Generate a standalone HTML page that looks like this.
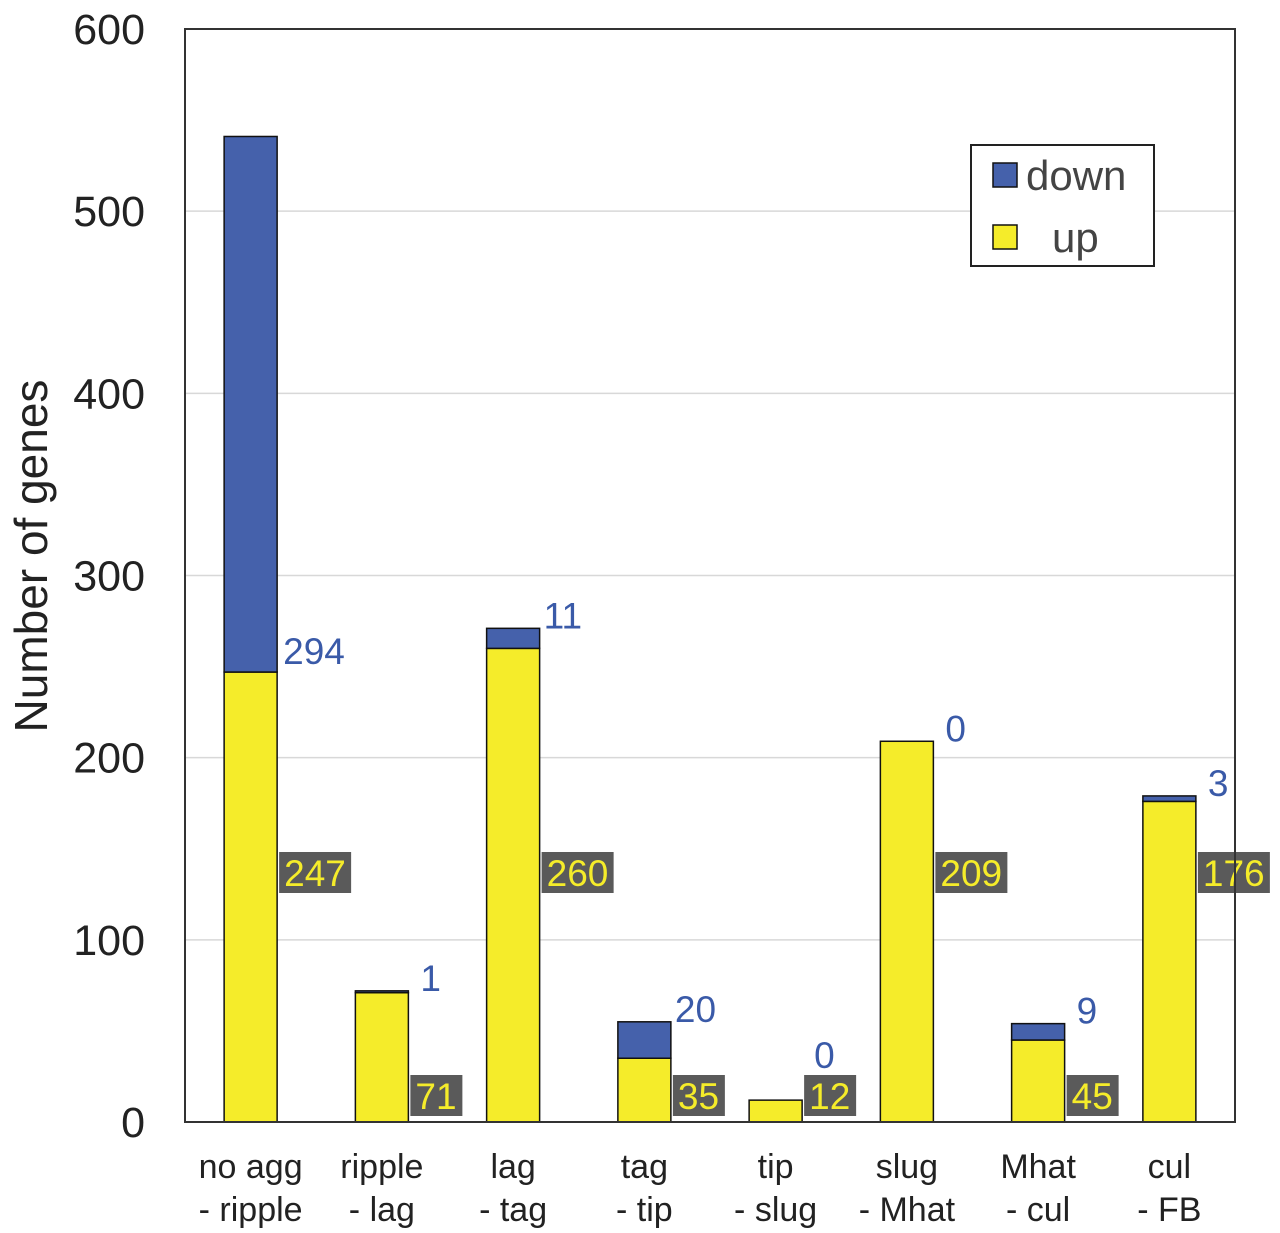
<!DOCTYPE html>
<html><head><meta charset="utf-8"><style>
html,body{margin:0;padding:0;background:#fff;}
svg{display:block;font-family:"Liberation Sans",Arial,sans-serif;}
</style></head><body>
<svg id="chart" width="1280" height="1233" viewBox="0 0 1280 1233">
<g id="grid"></g><g id="bars"></g><g id="labels"></g><g id="axes"></g>
<g>
<rect x="971" y="145" width="183" height="121" fill="#fff" stroke="#222" stroke-width="2"/>
<rect x="993" y="163" width="24" height="24" fill="#4561ab" stroke="#111" stroke-width="1.5"/>
<text x="1026" y="190" font-size="42" fill="#444">down</text>
<rect x="993" y="225" width="24" height="24" fill="#f5ec2a" stroke="#111" stroke-width="1.5"/>
<text x="1052" y="252" font-size="42" fill="#444">up</text>
</g>
<text transform="translate(47,556) rotate(-90)" text-anchor="middle" font-size="46" fill="#222">Number of genes</text>
</svg>
<script>
const catLine1 = ["no agg","ripple","lag","tag","tip","slug","Mhat","cul"];
const catLine2 = ["- ripple","- lag","- tag","- tip","- slug","- Mhat","- cul","- FB"];
const upValues = [247,71,260,35,12,209,45,176];
const downValues = [294,1,11,20,0,0,9,3];
const yTicks = [0,100,200,300,400,500,600];

const NS="http://www.w3.org/2000/svg";
const L=185,R=1235,T=29,B=1122,yMax=600;
const y=v=>B-(v/yMax)*(B-T);
const band=(R-L)/catLine1.length;
const xc=i=>L+band*(i+0.5);
const bw=53;
function mk(tag,attrs,parent,text){const e=document.createElementNS(NS,tag);for(const k in attrs)e.setAttribute(k,attrs[k]);if(text!==undefined)e.textContent=text;document.getElementById(parent).appendChild(e);return e;}
yTicks.forEach(t=>{
  if(t>0&&t<yMax){const g=mk('line',{x1:L,x2:R,y1:y(t),y2:y(t),stroke:'#d8d8d8','stroke-width':1.5},'grid');
  
  }
  const tl=mk('text',{x:145,y:y(t)+15,'text-anchor':'end','font-size':43,fill:'#222'},'axes',String(t));
  
  
});
const frame=mk('rect',{x:L,y:T,width:R-L,height:B-T,fill:'none',stroke:'#333','stroke-width':2},'axes');


catLine1.forEach((c,i)=>{
  const x0=xc(i)-bw/2;
  const up=upValues[i],dn=downValues[i];
  const ru=mk('rect',{x:x0,y:y(up),width:bw,height:B-y(up),fill:'#f5ec2a',stroke:'#111','stroke-width':1.5},'bars');
  
  
  if(dn>0){const rd=mk('rect',{x:x0,y:y(up+dn),width:bw,height:y(up)-y(up+dn),fill:'#4561ab',stroke:'#111','stroke-width':1.5},'bars');
  
  }
  const cy = up>150 ? 873 : 1096;
  const txt=String(up);
  const w=txt.length*20+12;
  const bx=mk('rect',{x:x0+bw+2,y:cy-21,width:w,height:41,fill:'#5a5a5a'},'labels');
  
  
  const ut=mk('text',{x:x0+bw+7,y:cy+13,'font-size':37,fill:'#f5ec2a'},'labels',txt);
  
  
  const dy = dn>100 ? y(up)-8 : Math.min(y(up+dn)+0, cy-28);
  const dt=mk('text',{x:x0+bw+(dn>100?6:(String(dn).length>1?4:12)),y:dy,'font-size':37,fill:'#3a5aa8'},'labels',String(dn));
  
  
  const c1=mk('text',{x:xc(i),y:1178,'text-anchor':'middle','font-size':34,fill:'#222'},'axes',c);
  
  
  const c2=mk('text',{x:xc(i),y:1221,'text-anchor':'middle','font-size':34,fill:'#222'},'axes',catLine2[i]);
  
  
});
</script>
</body></html>
